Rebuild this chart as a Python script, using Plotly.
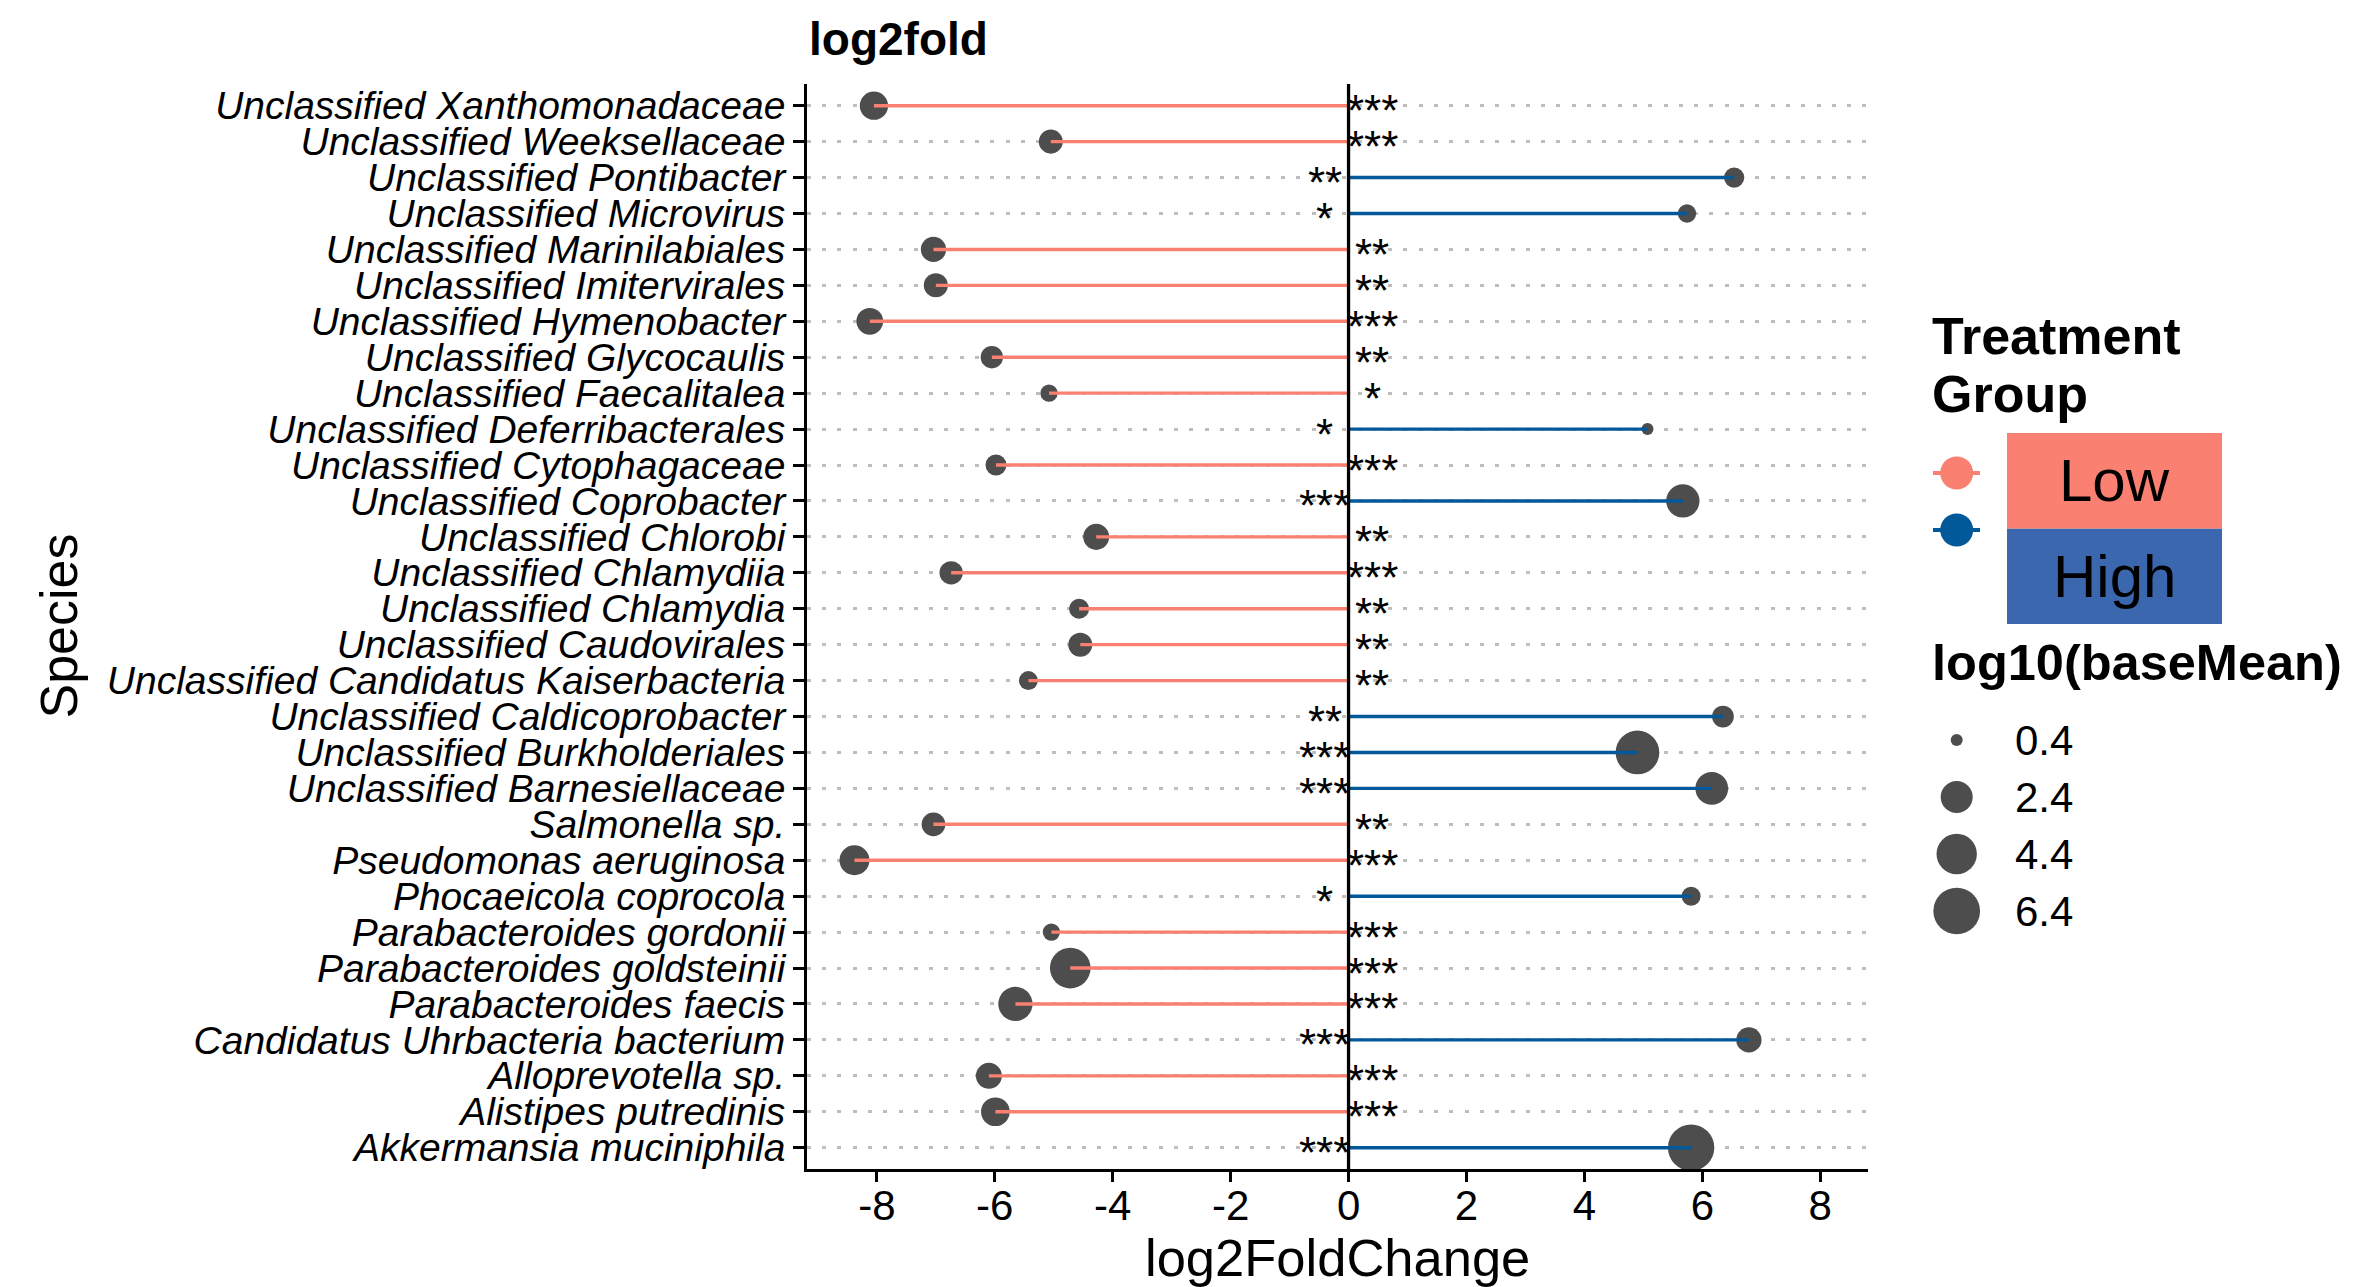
import plotly.graph_objects as go
import math

# ---------------- data ----------------
species = [
    "Unclassified Xanthomonadaceae", "Unclassified Weeksellaceae", "Unclassified Pontibacter",
    "Unclassified Microvirus", "Unclassified Marinilabiales", "Unclassified Imitervirales",
    "Unclassified Hymenobacter", "Unclassified Glycocaulis", "Unclassified Faecalitalea",
    "Unclassified Deferribacterales", "Unclassified Cytophagaceae", "Unclassified Coprobacter",
    "Unclassified Chlorobi", "Unclassified Chlamydiia", "Unclassified Chlamydia",
    "Unclassified Caudovirales", "Unclassified Candidatus Kaiserbacteria", "Unclassified Caldicoprobacter",
    "Unclassified Burkholderiales", "Unclassified Barnesiellaceae", "Salmonella sp.",
    "Pseudomonas aeruginosa", "Phocaeicola coprocola", "Parabacteroides gordonii",
    "Parabacteroides goldsteinii", "Parabacteroides faecis", "Candidatus Uhrbacteria bacterium",
    "Alloprevotella sp.", "Alistipes putredinis", "Akkermansia muciniphila",
]
log2fc = [-8.05, -5.05, 6.54, 5.74, -7.04, -7.00, -8.12, -6.05, -5.08, 5.07,
          -5.98, 5.67, -4.28, -6.74, -4.57, -4.55, -5.43, 6.35, 4.90, 6.16,
          -7.04, -8.38, 5.81, -5.04, -4.72, -5.65, 6.79, -6.10, -5.99, 5.81]
log10_basemean = [1.72, 1.12, 0.74, 0.60, 1.28, 1.12, 1.48, 0.93, 0.54, 0.40,
                  0.80, 2.66, 1.38, 1.04, 0.72, 1.12, 0.64, 0.87, 5.41, 2.53,
                  1.08, 2.01, 0.64, 0.54, 4.50, 2.88, 1.28, 1.38, 1.79, 6.30]
signif = ["***", "***", "**", "*", "**", "**", "***", "**", "*", "*",
          "***", "***", "**", "***", "**", "**", "**", "**", "***", "***",
          "**", "***", "*", "***", "***", "***", "***", "***", "***", "***"]
groups = ["Low", "High"]
size_breaks = [0.4, 2.4, 4.4, 6.4]
x_ticks = [-8, -6, -4, -2, 0, 2, 4, 6, 8]

group = ["Low" if v < 0 else "High" for v in log2fc]

# ---------------- style ----------------
W, H = 2359, 1287
L, R, T, B = 806.7, 1868.0, 84.0, 1169.0
FONT = "Liberation Sans, Arial, Helvetica, sans-serif"
COL = {"Low": "#FA8072", "High": "#02599A"}
RECT_COL = {"Low": "#FA8072", "High": "#3A67AE"}
PT_COL = "#4D4D4D"
SMIN, SMAX, DMIN, DMAX = 0.4, 6.4, 12.0, 46.7


def diam(v):
    f = max(0.0, (v - SMIN) / (SMAX - SMIN))
    return DMIN + (DMAX - DMIN) * math.sqrt(f)


def px(x):
    return x / W


def py(y):
    return 1 - y / H


fig = go.Figure()

# points
fig.add_trace(go.Scatter(
    x=log2fc, y=species, mode="markers",
    marker=dict(size=[diam(v) for v in log10_basemean], color=PT_COL, opacity=1,
                line=dict(width=0)),
    showlegend=False, hoverinfo="skip"))

# segments (drawn over points)
for g in groups:
    xs, ys = [], []
    for s, v, gg in zip(species, log2fc, group):
        if gg == g:
            xs += [0, v, None]
            ys += [s, s, None]
    fig.add_trace(go.Scatter(x=xs, y=ys, mode="lines",
                             line=dict(color=COL[g], width=3.4),
                             showlegend=False, hoverinfo="skip"))

# vertical zero line
fig.add_shape(type="line", xref="x", yref="paper", x0=0, x1=0,
              y0=py(B), y1=py(T), line=dict(color="black", width=3.3), layer="above")

# significance stars
for s, v, st in zip(species, log2fc, signif):
    fig.add_annotation(x=0.4 if v < 0 else -0.4, y=s, xref="x", yref="y",
                       text=st, showarrow=False, xanchor="center", yanchor="middle",
                       yshift=-5, font=dict(family=FONT, size=44, color="black"))

# ---------------- legend (drawn on a pixel-scaled helper axis) ----------------
LX0 = 1900
key_y = {"Low": 473, "High": 530}
for g in groups:
    fig.add_trace(go.Scatter(x=[1933, 1980], y=[key_y[g]] * 2, mode="lines",
                             line=dict(color=COL[g], width=4), xaxis="x2", yaxis="y2",
                             showlegend=False, hoverinfo="skip"))
    fig.add_trace(go.Scatter(x=[1956.7], y=[key_y[g]], mode="markers",
                             marker=dict(size=33, color=COL[g], opacity=1, line=dict(width=0)),
                             xaxis="x2", yaxis="y2", showlegend=False, hoverinfo="skip"))

size_y = [740, 797, 854, 911]
fig.add_trace(go.Scatter(x=[1956.7] * len(size_breaks), y=size_y, mode="markers",
                         marker=dict(size=[diam(b) for b in size_breaks], color=PT_COL,
                                     opacity=1, line=dict(width=0)),
                         xaxis="x2", yaxis="y2", showlegend=False, hoverinfo="skip"))
for b, yy in zip(size_breaks, size_y):
    fig.add_annotation(x=px(2013), y=py(yy), xref="paper", yref="paper", text=f"{b:.1f}",
                       showarrow=False, xanchor="left", yanchor="middle",
                       font=dict(family=FONT, size=42, color="black"))

rect_y = {"Low": (433, 528.7), "High": (528.7, 624)}
for g in groups:
    y0, y1 = rect_y[g]
    fig.add_shape(type="rect", xref="paper", yref="paper", x0=px(2007), x1=px(2222),
                  y0=py(y1), y1=py(y0), fillcolor=RECT_COL[g], line=dict(width=0))
    fig.add_annotation(x=px(2114.5), y=py((y0 + y1) / 2), xref="paper", yref="paper",
                       text=g, showarrow=False, xanchor="center", yanchor="middle",
                       font=dict(family=FONT, size=60, color="black"))

for txt, yy, fs in [("Treatment", 336, 52), ("Group", 394, 52), ("log10(baseMean)", 662, 50.5)]:
    fig.add_annotation(x=px(1930), y=py(yy), xref="paper", yref="paper", text=f"<b>{txt}</b>",
                       showarrow=False, xanchor="left", yanchor="middle",
                       font=dict(family=FONT, size=fs, color="black"))

# titles
fig.add_annotation(x=px(807), y=py(39), xref="paper", yref="paper", text="<b>log2fold</b>",
                   showarrow=False, xanchor="left", yanchor="middle",
                   font=dict(family=FONT, size=46, color="black"))
fig.add_annotation(x=px((L + R) / 2), y=py(1257), xref="paper", yref="paper",
                   text="log2FoldChange", showarrow=False, xanchor="center", yanchor="middle",
                   font=dict(family=FONT, size=52.5, color="black"))
fig.add_annotation(x=px(58), y=py((T + B) / 2), xref="paper", yref="paper",
                   text="Species", textangle=-90, showarrow=False,
                   xanchor="center", yanchor="middle",
                   font=dict(family=FONT, size=52, color="black"))

fig.update_layout(
    width=W, height=H, autosize=False,
    margin=dict(l=0, r=0, t=0, b=0, pad=0),
    paper_bgcolor="white", plot_bgcolor="rgba(0,0,0,0)",
    showlegend=False,
    xaxis=dict(domain=[px(L), px(R)], range=[-9.19, 8.81], tickvals=x_ticks,
               ticktext=[str(t) for t in x_ticks],
               showgrid=False, zeroline=False, showline=True, linecolor="black", linewidth=2.7,
               ticks="outside", ticklen=10, tickwidth=2.7, tickcolor="black",
               ticklabelstandoff=-12,
               tickfont=dict(family=FONT, size=42, color="black"), anchor="y"),
    yaxis=dict(domain=[py(B), py(T)], type="category", categoryorder="array",
               categoryarray=species, tickmode="array", tickvals=species, ticktext=species,
               range=[len(species) - 1 + 0.593, -0.604],
               showgrid=True, gridcolor="#BEBEBE", gridwidth=3.4, griddash="4px,11.3px",
               zeroline=False, showline=True, linecolor="black", linewidth=2.7,
               ticks="outside", ticklen=10.7, tickwidth=2.7, tickcolor="black",
               tickfont=dict(family=FONT, size=39, color="black", style="italic"),
               anchor="x"),
    xaxis2=dict(domain=[px(LX0), 1], range=[LX0, W], visible=False, anchor="y2"),
    yaxis2=dict(domain=[0, 1], range=[H, 0], visible=False, anchor="x2"),
)

fig.write_html("out.html", config={"displayModeBar": False},
               post_script="document.body.style.margin='0px';document.body.style.overflow='hidden';")
